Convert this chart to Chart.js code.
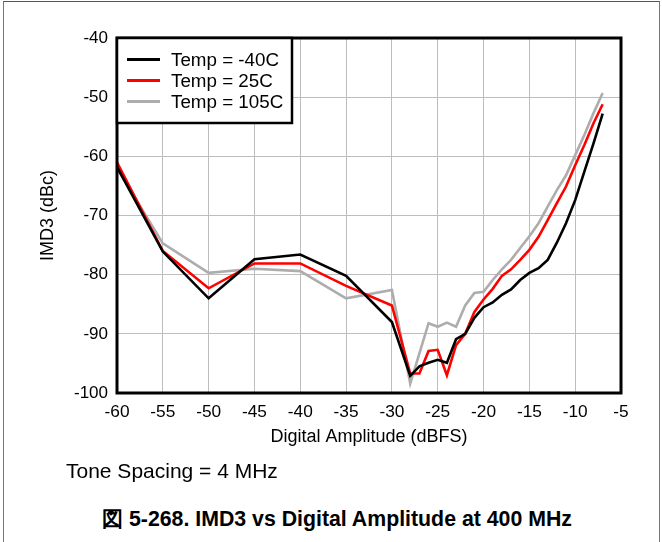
<!DOCTYPE html>
<html>
<head>
<meta charset="utf-8">
<script src="https://cdn.jsdelivr.net/npm/chart.js@4.4.1/dist/chart.umd.min.js"></script>
<style>
  html, body { margin: 0; padding: 0; background: #fff; width: 662px; height: 542px; overflow: hidden; }
  #frame { position: absolute; left: 3px; top: 1px; width: 655px; height: 560px;
           border-top: 1px solid #555; border-left: 1px solid #777; border-right: 1px solid #777; }
  #wrap { position: absolute; left: 0; top: 0; width: 662px; height: 460px; }
  .note { position: absolute; font-family: "Liberation Sans", Arial, sans-serif; color: #000; white-space: nowrap; }
  #tone { left: 66px; top: 459px; font-size: 21px; }
  #caption { left: 0; width: 674px; text-align: center; top: 504px; font-size: 21.3px; font-weight: bold; }
</style>
</head>
<body>
<div id="frame"></div>
<div id="wrap"><canvas id="c" width="662" height="460"></canvas></div>
<div class="note" id="tone">Tone Spacing = 4 MHz</div>
<div class="note" id="caption">図 5-268. IMD3 vs Digital Amplitude at 400 MHz</div>
<script>
// ---- data ----
const amplitudes = [-60,-55,-50,-45,-40,-35,-30,-28,-27,-26,-25,-24,-23,-22,-21,-20,-19,-18,-17,-16,-15,-14,-13,-12,-11,-10,-9,-8,-7];
const tempM40 = [-61.8,-76.1,-84.0,-77.4,-76.6,-80.2,-88.0,-97.1,-95.5,-94.9,-94.4,-94.9,-90.9,-90.0,-87.3,-85.5,-84.7,-83.4,-82.5,-80.9,-79.7,-78.9,-77.5,-74.6,-71.3,-67.4,-62.6,-57.8,-52.8];
const temp25  = [-61.0,-76.0,-82.3,-78.1,-78.1,-81.9,-85.2,-96.7,-96.7,-92.9,-92.7,-97.0,-91.9,-90.0,-86.3,-84.2,-82.4,-80.2,-79.1,-77.5,-75.8,-73.6,-70.8,-67.9,-65.1,-61.5,-58.1,-54.4,-51.2];
const temp105 = [-62.0,-74.7,-79.7,-79.0,-79.4,-84.0,-82.6,-98.4,-93.3,-88.2,-88.8,-88.1,-88.8,-85.2,-83.1,-82.9,-80.9,-79.1,-77.5,-75.5,-73.5,-71.3,-68.5,-65.7,-63.2,-59.8,-56.4,-52.7,-49.3];
const seriesLabels = ["Temp = -40C", "Temp = 25C", "Temp = 105C"];
const xTitle = "Digital Amplitude (dBFS)";
const yTitle = "IMD3 (dBc)";

const FONT = '"Liberation Sans", Arial, sans-serif';
const pts = arr => arr.map((v, i) => ({ x: amplitudes[i], y: v }));

// plot frame + boxed legend
const framePlugin = {
  id: 'framePlugin',
  afterDraw(chart) {
    const { ctx, chartArea: a } = chart;
    ctx.save();
    ctx.strokeStyle = '#000';
    ctx.lineWidth = 3;
    ctx.strokeRect(a.left, a.top, a.right - a.left, a.bottom - a.top);
    // legend box
    const lx = a.left, ly = a.top, lw = 175, lh = 85;
    ctx.fillStyle = '#fff';
    ctx.fillRect(lx, ly, lw, lh);
    ctx.lineWidth = 2.5;
    ctx.strokeRect(lx, ly, lw, lh);
    ctx.font = '18.8px ' + FONT;
    ctx.textBaseline = 'middle';
    chart.data.datasets.forEach((ds, i) => {
      const y = ly + 21.5 + i * 21;
      ctx.strokeStyle = ds.borderColor;
      ctx.lineWidth = 3;
      ctx.beginPath();
      ctx.moveTo(lx + 10, y);
      ctx.lineTo(lx + 43, y);
      ctx.stroke();
      ctx.fillStyle = '#000';
      ctx.fillText(ds.label, lx + 54, y + 1);
    });
    ctx.restore();
  }
};

new Chart(document.getElementById('c'), {
  type: 'line',
  data: {
    datasets: [
      { label: seriesLabels[0], data: pts(tempM40), borderColor: '#000000', borderWidth: 2.6, pointRadius: 0, tension: 0 },
      { label: seriesLabels[1], data: pts(temp25),  borderColor: '#ff0000', borderWidth: 2.6, pointRadius: 0, tension: 0 },
      { label: seriesLabels[2], data: pts(temp105), borderColor: '#adadad', borderWidth: 2.6, pointRadius: 0, tension: 0 }
    ]
  },
  options: {
    responsive: false,
    animation: false,
    devicePixelRatio: 1,
    layout: { padding: { left: 0, top: 38, right: 41, bottom: 0 } },
    plugins: { legend: { display: false }, tooltip: { enabled: false } },
    scales: {
      x: {
        type: 'linear', min: -60, max: -5,
        ticks: { stepSize: 5, color: '#000', font: { size: 17.3, family: FONT }, padding: 9, maxRotation: 0 },
        grid: { color: '#bdbdbd', lineWidth: 1, drawTicks: false },
        border: { display: false },
        title: { display: true, text: xTitle, color: '#000', font: { size: 18, family: FONT }, padding: { top: 0, bottom: 12 } },
        afterFit(s) { s.height = 67; }
      },
      y: {
        min: -100, max: -40,
        ticks: { stepSize: 10, color: '#000', font: { size: 17, family: FONT }, padding: 9 },
        grid: { color: '#bdbdbd', lineWidth: 1, drawTicks: false },
        border: { display: false },
        title: { display: true, text: yTitle, color: '#000', font: { size: 18, family: FONT }, padding: { top: 37, bottom: 0 } },
        afterFit(s) { s.width = 117; }
      }
    }
  },
  plugins: [framePlugin]
});
</script>
</body>
</html>
